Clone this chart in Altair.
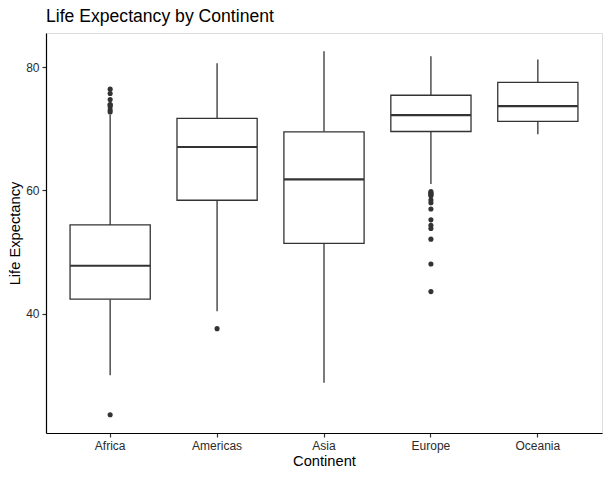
import altair as alt
import pandas as pd

# Box-plot summary of life expectancy per continent
continents = ["Africa", "Americas", "Asia", "Europe", "Oceania"]
whisker_low = [30.00, 40.41, 28.80, 61.04, 69.12]
q1 = [42.37, 58.41, 51.43, 69.57, 71.21]
median = [47.79, 67.05, 61.79, 72.24, 73.67]
q3 = [54.41, 71.70, 69.51, 75.45, 77.55]
whisker_high = [72.30, 80.65, 82.60, 81.76, 81.24]

# Points lying beyond the whiskers
outlier_continent = ["Africa"] * 9 + ["Americas"] + ["Europe"] * 14
outlier_value = [
    23.60, 72.74, 73.04, 73.60, 73.92, 73.95, 74.77, 75.74, 76.44,
    37.58,
    43.59, 48.08, 52.10, 53.82, 54.34, 55.23, 57.00, 58.00, 58.45,
    59.16, 59.28, 59.51, 59.60, 59.82,
]

box = pd.DataFrame({
    "Continent": continents,
    "lo": whisker_low,
    "q1": q1,
    "median": median,
    "q3": q3,
    "hi": whisker_high,
})
pts = pd.DataFrame({"Continent": outlier_continent, "value": outlier_value})

ink = "#333333"
label_ink = "#2b2b2b"
font = "Liberation Sans"

x_scale = alt.Scale(domain=continents, paddingInner=0.25, paddingOuter=0.225)
y_scale = alt.Scale(domain=[20.65, 85.55], nice=False, zero=False)

x_axis = alt.Axis(
    title="Continent", labelAngle=0, domain=True, domainColor="black",
    domainWidth=1.2, ticks=True, tickColor=ink, tickSize=4, tickWidth=1.2,
    labelColor=label_ink, labelFontSize=12, labelFont=font, labelPadding=3,
    titleFont=font, titleFontSize=14.7, titleFontWeight="normal",
    titleColor="black", titlePadding=2, grid=False,
)
y_axis = alt.Axis(
    title="Life Expectancy", values=[40, 60, 80], domain=True,
    domainColor="black", domainWidth=1.2, ticks=True, tickColor=ink,
    tickSize=4, tickWidth=1.2, labelColor=label_ink, labelFontSize=12,
    labelFont=font, labelPadding=3, titleFont=font, titleFontSize=14.7,
    titleFontWeight="normal", titleColor="black", titlePadding=3, grid=False,
)

base = alt.Chart(box)
x_enc = alt.X("Continent:N", scale=x_scale, axis=x_axis, sort=continents)

lower_whisker = base.mark_rule(color=ink, strokeWidth=1.3).encode(
    x=x_enc,
    y=alt.Y("lo:Q", scale=y_scale, axis=y_axis),
    y2="q1:Q",
)
upper_whisker = base.mark_rule(color=ink, strokeWidth=1.3).encode(
    x=x_enc, y=alt.Y("q3:Q"), y2="hi:Q"
)
boxes = base.mark_bar(fill="white", stroke=ink, strokeWidth=1.3).encode(
    x=x_enc, y=alt.Y("q1:Q"), y2="q3:Q"
)
medians = base.mark_tick(
    color=ink, thickness=2.2, size=80, orient="horizontal", opacity=1
).encode(x=x_enc, y=alt.Y("median:Q"))
outliers = alt.Chart(pts).mark_circle(color=ink, size=26, opacity=1).encode(
    x=alt.X("Continent:N", scale=x_scale, sort=continents),
    y=alt.Y("value:Q", scale=y_scale),
)

chart = (
    alt.layer(lower_whisker, upper_whisker, boxes, medians, outliers)
    .properties(
        width=556,
        height=400,
        autosize=alt.AutoSizeParams(type="none"),
        padding={"left": 46, "top": 33, "right": 8, "bottom": 46},
        title=alt.TitleParams(
            "Life Expectancy by Continent", anchor="start", frame="group",
            font=font, fontSize=17.6, fontWeight="normal", color="black",
            offset=7,
        ),
    )
    .configure_view(stroke=None)
    .configure(background="white")
)

chart.save("out.html", embed_options={"renderer": "svg", "actions": False})
